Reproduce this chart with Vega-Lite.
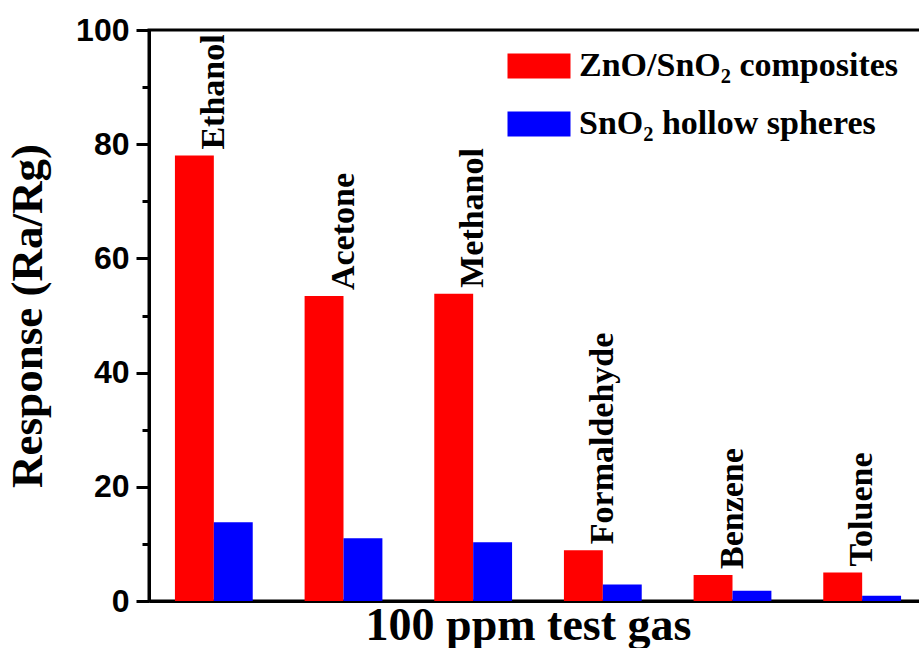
{
  "$schema": "https://vega.github.io/schema/vega-lite/v6.json",
  "width": 778,
  "height": 571,
  "autosize": "none",
  "padding": {"left": 149, "top": 30, "right": 0, "bottom": 47},
  "background": "white",
  "config": {
    "view": {"stroke": "#000", "strokeWidth": 3},
    "font": "Liberation Serif"
  },
  "data": {
    "values": [
      {"gas": "Ethanol", "material": "ZnO/SnO₂ composites", "value": 78.0},
      {"gas": "Ethanol", "material": "SnO₂ hollow spheres", "value": 13.8},
      {"gas": "Acetone", "material": "ZnO/SnO₂ composites", "value": 53.4},
      {"gas": "Acetone", "material": "SnO₂ hollow spheres", "value": 11.0},
      {"gas": "Methanol", "material": "ZnO/SnO₂ composites", "value": 53.8},
      {"gas": "Methanol", "material": "SnO₂ hollow spheres", "value": 10.3},
      {"gas": "Formaldehyde", "material": "ZnO/SnO₂ composites", "value": 8.9},
      {"gas": "Formaldehyde", "material": "SnO₂ hollow spheres", "value": 2.9},
      {"gas": "Benzene", "material": "ZnO/SnO₂ composites", "value": 4.55},
      {"gas": "Benzene", "material": "SnO₂ hollow spheres", "value": 1.8},
      {"gas": "Toluene", "material": "ZnO/SnO₂ composites", "value": 5.0},
      {"gas": "Toluene", "material": "SnO₂ hollow spheres", "value": 0.9}
    ]
  },
  "encoding": {
    "x": {
      "field": "gas",
      "type": "nominal",
      "sort": null,
      "scale": {"paddingInner": 0.4, "paddingOuter": 0.2},
      "axis": {
        "title": "100 ppm test gas",
        "labels": false,
        "ticks": false,
        "domainColor": "#000",
        "domainWidth": 3,
        "titleFont": "Liberation Serif",
        "titleFontWeight": "bold",
        "titleFontSize": 46,
        "titleColor": "#000",
        "titlePadding": 2,
        "titleX": 379
      }
    },
    "y": {
      "field": "value",
      "type": "quantitative",
      "scale": {"domain": [0, 100], "nice": false},
      "axis": {
        "title": "Response (Ra/Rg)",
        "values": [0, 10, 20, 30, 40, 50, 60, 70, 80, 90, 100],
        "labelExpr": "datum.value % 20 === 0 ? datum.label : ''",
        "grid": false,
        "domainColor": "#000",
        "domainWidth": 3,
        "tickColor": "#000",
        "tickWidth": 3,
        "tickSize": {"condition": {"test": "datum.value % 20 !== 0", "value": 7}, "value": 13},
        "labelFont": "Liberation Sans",
        "labelFontWeight": "bold",
        "labelFontSize": 32,
        "labelColor": "#000",
        "labelPadding": 7,
        "titleFont": "Liberation Serif",
        "titleFontWeight": "bold",
        "titleFontSize": 45,
        "titleColor": "#000",
        "titlePadding": 25
      }
    }
  },
  "layer": [
    {
      "mark": {"type": "bar"},
      "encoding": {
        "xOffset": {"field": "material", "type": "nominal", "sort": ["ZnO/SnO₂ composites", "SnO₂ hollow spheres"], "scale": {"paddingInner": 0, "paddingOuter": 0}},
        "color": {
          "field": "material",
          "type": "nominal",
          "sort": ["ZnO/SnO₂ composites", "SnO₂ hollow spheres"],
          "scale": {"domain": ["ZnO/SnO₂ composites", "SnO₂ hollow spheres"], "range": ["#FF0000", "#0000FF"]},
          "legend": {
            "title": null,
            "orient": "none",
            "legendX": 362,
            "legendY": 8,
            "padding": 0,
            "rowPadding": 13,
            "symbolType": "M-1.125,-0.446H1.125V0.446H-1.125Z",
            "symbolSize": 3136,
            "symbolStrokeWidth": 0,
            "symbolOpacity": 1,
            "labelOffset": 12,
            "labelFont": "Liberation Serif",
            "labelFontWeight": "bold",
            "labelFontSize": 34,
            "labelColor": "#000",
            "labelLimit": 500
          }
        }
      }
    },
    {
      "transform": [{"filter": "datum.material === 'ZnO/SnO₂ composites'"}],
      "mark": {
        "type": "text",
        "angle": 270,
        "align": "left",
        "baseline": "middle",
        "dx": 6,
        "font": "Liberation Serif",
        "fontWeight": "bold",
        "fontSize": 34,
        "color": "#000"
      },
      "encoding": {
        "text": {"field": "gas", "type": "nominal"}
      }
    }
  ]
}
